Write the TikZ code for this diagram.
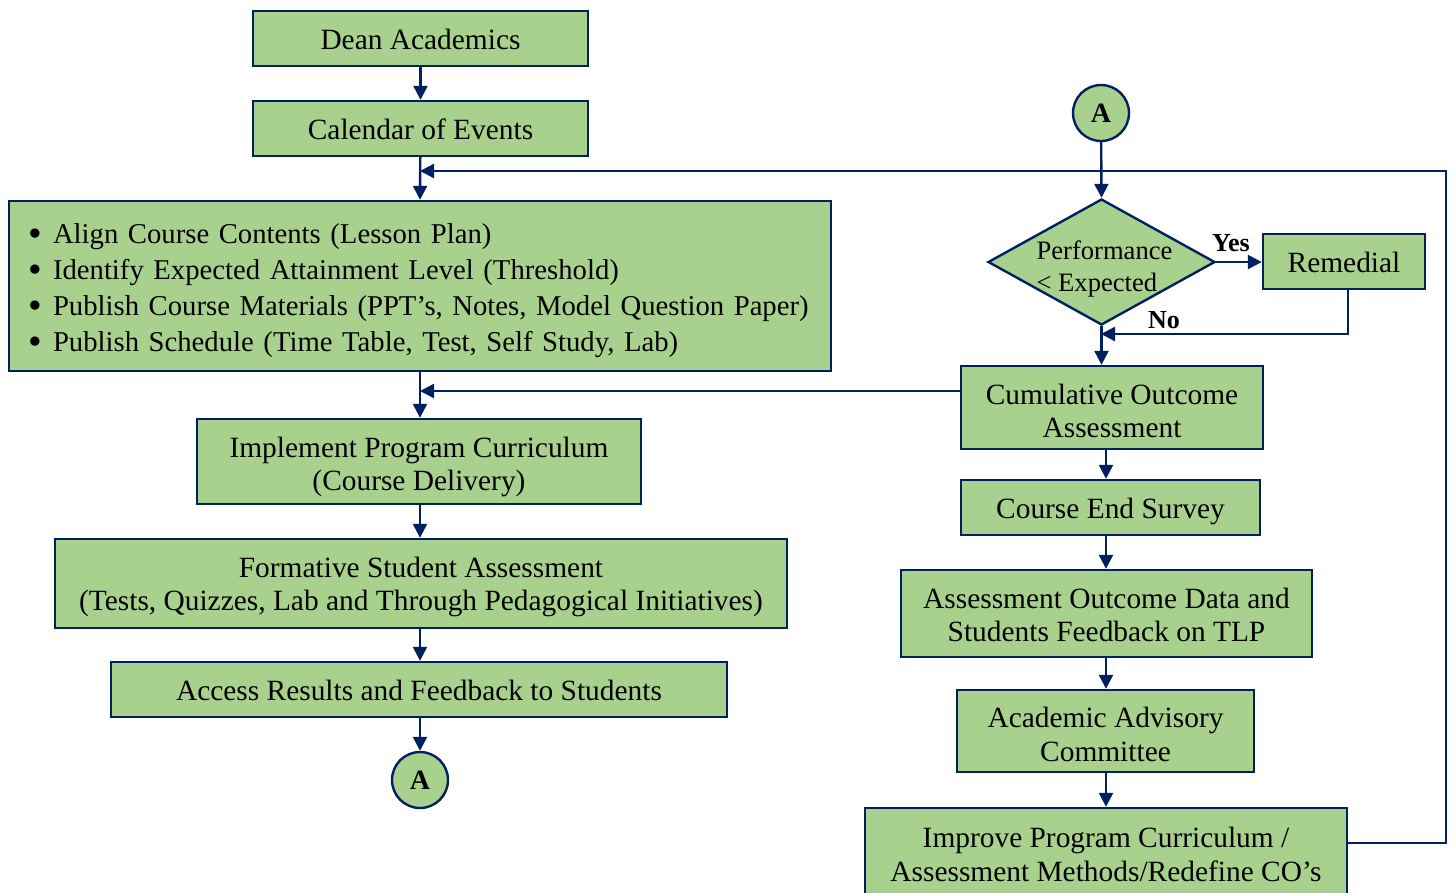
\documentclass[tikz,border=0pt]{standalone}
\usepackage{fontspec}
\setmainfont{Liberation Serif}
\usetikzlibrary{arrows.meta,shapes.geometric,calc}
\definecolor{boxfill}{RGB}{169,209,142}
\definecolor{navy}{RGB}{0,32,96}
\newcommand{\tx}[2][8pt]{\raisebox{0pt}[\dimexpr\height+#1\relax][\depth]{\begin{tabular}{@{}c@{}}#2\end{tabular}}}
\newcommand{\bt}{\makebox[25pt][l]{\raisebox{-3.5pt}{\fontsize{39}{39}\selectfont\textbullet}}}
\tikzset{
  box/.style={draw=navy,fill=boxfill,line width=2.4pt,rectangle,inner sep=0pt,align=center,
    font=\fontsize{29.4}{33.5}\selectfont},
  conn/.style={draw=navy,line width=2.4pt},
  arr/.style={conn,-{Triangle[length=14pt,width=14pt]}},
  circ/.style={draw=navy,fill=boxfill,line width=2.4pt,circle,minimum size=56pt,inner sep=0pt,
    font=\fontsize{28}{33}\selectfont\bfseries},
  lab/.style={font=\fontsize{26}{30}\selectfont\bfseries,inner sep=0pt}
}
\begin{document}
\begin{tikzpicture}[x=1pt,y=-1pt]
\useasboundingbox (0,0) rectangle (1455,892);
% left column
\node[box,minimum width=335pt,minimum height=55pt] (dean) at (420.5,38.5) {\tx{Dean Academics}};
\node[box,minimum width=335pt,minimum height=55pt] (cal) at (420.5,128.5) {\tx{Calendar of Events}};
\node[box,minimum width=822pt,minimum height=170pt,text width=784pt,inner xsep=19pt,align=left,
  font=\fontsize{28.7}{36}\selectfont] (bul) at (420,286) {%
  \raisebox{0pt}[\dimexpr\height+8pt\relax][\depth]{\begin{tabular}{@{}l@{}}
  \bt Align Course Contents (Lesson Plan)\\
  \bt Identify Expected Attainment Level (Threshold)\\
  \bt Publish Course Materials (PPT’s, Notes, Model Question Paper)\\
  \bt Publish Schedule (Time Table, Test, Self Study, Lab)
  \end{tabular}}};
\node[box,minimum width=444pt,minimum height=85pt] (impl) at (419,461.5) {\tx[12pt]{Implement Program Curriculum\\(Course Delivery)}};
\node[box,minimum width=732pt,minimum height=89pt] (form) at (421,583.5) {\tx{Formative Student Assessment\\(Tests, Quizzes, Lab and Through Pedagogical Initiatives)}};
\node[box,minimum width=616pt,minimum height=55pt] (acc) at (419,689.5) {\tx{Access Results and Feedback to Students}};
\node[circ] (ca) at (420,780) {A};
% right column
\node[circ] (cb) at (1101,113) {A};
\node[draw=navy,fill=boxfill,line width=2.4pt,diamond,minimum width=227pt,minimum height=126pt,inner sep=0pt] (dia) at (1101.5,262) {};
\node[font=\fontsize{26.6}{32}\selectfont,align=left,inner sep=0pt] (diat) at (1104.5,269) {Performance\\< Expected};
\node[box,minimum width=162pt,minimum height=55pt] (rem) at (1344,261.5) {\tx{Remedial}};
\node[box,minimum width=302pt,minimum height=83pt] (cum) at (1112,407.5) {\tx[14pt]{Cumulative Outcome\\Assessment}};
\node[box,minimum width=299pt,minimum height=55pt] (ces) at (1110.5,507.5) {\tx{Course End Survey}};
\node[box,minimum width=411pt,minimum height=87pt] (aod) at (1106.5,613.5) {\tx[10pt]{Assessment Outcome Data and\\Students Feedback on TLP}};
\node[box,minimum width=297pt,minimum height=82pt] (aac) at (1105.5,731) {\tx[14pt]{Academic Advisory\\Committee}};
\node[box,minimum width=482pt,minimum height=90pt] (imp) at (1106,853) {\tx[10pt]{Improve Program Curriculum /\\Assessment Methods/Redefine CO’s}};
\node[lab] (yes) at (1231,243) {Yes};
\node[lab] (no) at (1164,320) {No};
% coordinates
\coordinate (fb) at (420,171);
\coordinate (fbc) at (1446,171);
\coordinate (cj) at (420,391);
\coordinate (nj) at (1101,334);
\coordinate (rj) at (1348,289);
\coordinate (colx) at (1106,0);
% left connectors
\draw[arr] (dean) -- (cal);
\draw[arr] (cal) -- (bul.north);
\draw[arr] (bul.south) -- (impl.north -| bul.south);
\draw[arr] (impl.south -| fb) -- (form.north -| fb);
\draw[arr] (form.south -| fb) -- (acc.north -| fb);
\draw[arr] (acc.south -| fb) -- (ca);
% right connectors
\draw[arr] (cb) -- (dia.north);
\draw[arr] (dia.east) -- (rem.west |- dia.east);
\draw[arr] (rj) |- (nj);
\draw[arr] (dia.south) -- (dia.south |- cum.north);
\draw[arr] (cum.west |- cj) -- (cj);
\draw[arr] (colx |- cum.south) -- (colx |- ces.north);
\draw[arr] (colx |- ces.south) -- (colx |- aod.north);
\draw[arr] (colx |- aod.south) -- (colx |- aac.north);
\draw[arr] (colx |- aac.south) -- (colx |- imp.north);
\draw[arr] ([yshift=10pt]imp.east) -| (fbc) -- (fb);
\end{tikzpicture}
\end{document}
